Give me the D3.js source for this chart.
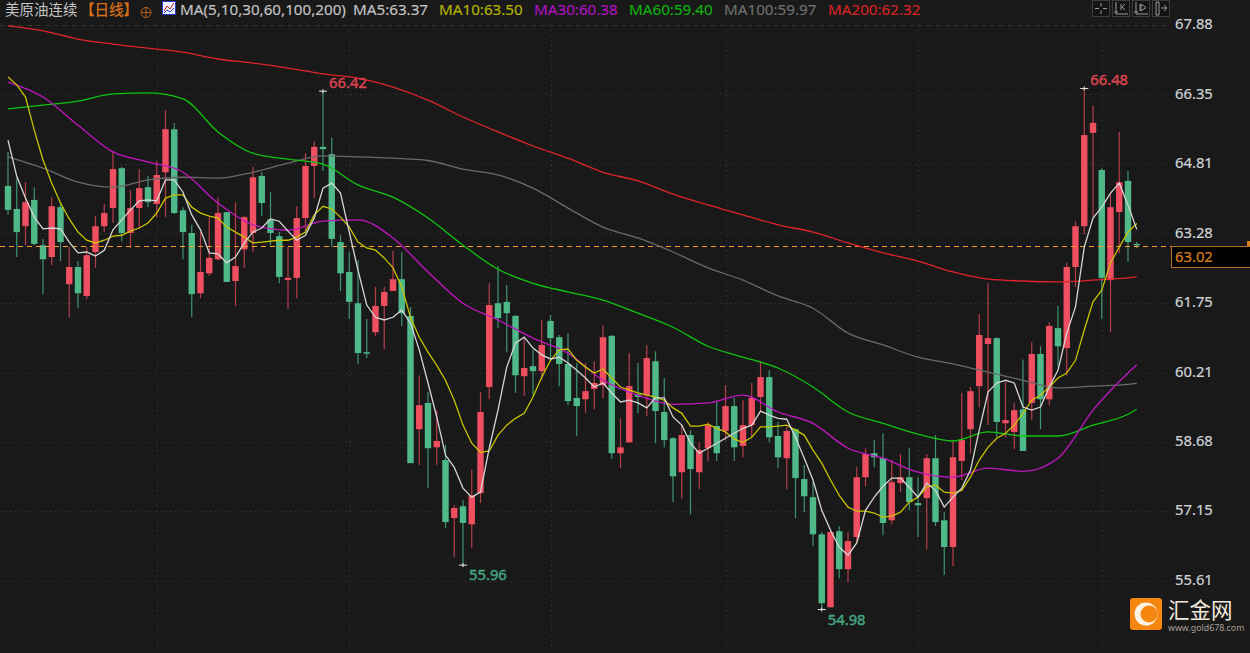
<!DOCTYPE html>
<html>
<head>
<meta charset="utf-8">
<style>
  html, body { margin: 0; padding: 0; background: #191919; overflow: hidden; }
  svg { display: block; }
  text { font-family: "Noto Sans", "Noto Sans CJK SC", sans-serif; }
</style>
<script src="https://d3js.org/d3.v7.min.js"></script>
</head>
<body>
<svg id="chart" width="1250" height="653"></svg>
<script>
const title = "美原油连续";
const period = "【日线】";
const maTitle = "MA(5,10,30,60,100,200)";
const legendLabels = ["MA5:63.37", "MA10:63.50", "MA30:60.38", "MA60:59.40", "MA100:59.97", "MA200:62.32"];
const tickLabels = [67.88, 66.35, 64.81, 63.28, 61.75, 60.21, 58.68, 57.15, 55.61];
const lastPrice = 63.02;
const monthStarts = [17, 39, 62, 82, 104, 125];
const extremeIdx = [36, 123, 52, 93];
const extremeVal = [66.42, 66.48, 55.96, 54.98];

const opens = [64.33,63.82,63.44,64.02,63.02,62.76,63.86,62.16,62.54,61.90,
  62.87,63.44,63.84,64.72,63.29,63.84,64.30,63.93,64.63,65.58,
  63.79,63.29,61.96,62.40,62.71,63.75,62.23,62.93,63.29,64.55,
  63.59,63.22,62.25,62.30,63.62,64.77,65.19,65.03,63.09,62.43,
  61.74,60.66,61.10,61.68,62.01,62.27,61.46,58.96,59.54,58.56,
  58.28,57.00,57.26,56.86,57.55,59.89,61.74,61.77,61.46,60.13,
  60.35,60.24,61.35,60.99,60.40,59.65,59.62,59.85,59.93,61.02,
  58.43,58.67,59.73,59.71,60.46,59.34,58.76,58.01,58.83,58.01,
  58.54,59.03,58.92,59.47,58.59,59.05,59.67,60.11,58.81,58.32,
  58.96,57.86,57.46,56.64,55.03,56.71,55.87,56.58,57.90,58.43,
  58.32,56.95,57.77,57.90,57.33,57.44,58.32,56.95,56.36,58.26,
  58.96,59.91,60.84,60.97,59.09,58.90,59.40,59.54,60.62,59.62,
  61.19,60.75,62.54,63.44,65.50,64.68,62.25,63.75,64.44,63.05];
const closes = [63.80,63.31,63.97,63.05,62.71,63.88,63.09,62.54,61.96,62.80,
  63.44,63.73,64.70,63.29,63.84,64.28,63.97,64.57,65.58,63.73,
  63.31,61.94,62.43,62.74,63.73,62.21,62.56,63.64,64.52,63.95,
  63.29,62.32,62.30,63.62,64.77,65.19,65.14,63.16,62.40,61.77,
  60.64,60.64,61.68,61.99,62.27,61.52,58.21,59.49,58.54,58.70,
  56.91,57.22,56.89,57.50,59.34,61.70,61.41,61.52,60.15,60.31,
  60.24,60.82,60.97,60.40,59.58,59.47,59.80,59.98,60.99,58.43,
  58.56,59.91,59.67,60.53,59.36,58.72,57.92,58.83,58.08,58.50,
  59.05,58.43,59.47,58.56,59.05,59.65,60.11,58.78,58.34,58.92,
  57.88,57.48,56.64,55.12,56.69,55.87,56.49,57.90,58.41,58.34,
  56.89,57.79,57.90,57.35,57.28,58.32,56.91,56.36,58.34,58.72,
  59.80,61.04,60.97,59.12,59.16,59.38,58.48,60.62,59.62,61.24,
  60.79,62.54,63.44,65.45,65.72,62.30,63.86,64.41,63.09,63.02];
const highs = [65.08,64.50,64.41,64.30,63.16,64.08,63.97,62.98,62.67,62.98,
  63.66,63.93,65.10,64.75,64.24,64.70,64.55,64.88,66.00,65.72,
  63.86,63.47,63.31,63.64,64.08,63.75,63.97,63.66,64.75,64.63,
  64.19,63.31,62.98,63.88,65.05,65.32,66.42,65.39,63.24,62.87,
  62.69,61.39,62.10,62.10,62.89,62.87,61.66,60.15,59.78,59.38,
  58.61,57.28,57.39,58.06,59.78,62.18,62.56,62.14,61.48,60.99,
  60.71,61.37,61.48,61.04,61.08,60.42,60.42,60.46,61.26,61.04,
  59.20,60.64,60.42,60.82,60.68,60.09,58.78,59.05,58.94,58.67,
  59.12,59.58,59.93,59.65,59.60,59.98,60.46,60.26,59.12,59.01,
  58.98,58.17,57.79,56.69,56.73,56.82,56.69,58.12,58.54,58.72,
  58.87,58.28,58.41,58.54,57.90,58.41,58.83,57.13,58.72,59.76,
  59.89,61.50,62.18,60.99,60.00,59.54,60.50,60.88,60.79,61.32,
  61.68,62.63,63.55,66.48,66.09,64.72,64.17,65.52,64.66,63.09];
const lows = [63.69,62.76,63.02,63.02,61.94,62.58,62.67,61.43,61.63,61.83,
  62.52,63.31,63.51,63.11,62.96,63.40,63.86,63.64,63.64,63.71,
  62.71,61.43,61.85,62.34,62.69,62.21,61.68,62.52,62.87,63.66,
  63.02,62.18,61.61,61.85,63.29,64.06,64.66,62.98,62.01,61.39,
  60.40,60.53,61.01,60.73,62.01,61.24,58.21,58.17,57.66,58.17,
  56.78,56.14,55.96,56.33,57.33,59.62,61.19,60.66,59.76,59.69,
  59.71,60.04,60.53,59.91,59.49,58.81,59.32,59.40,59.65,58.30,
  58.10,58.67,59.32,59.25,58.65,58.56,57.35,57.42,57.08,57.64,
  58.26,58.26,58.72,58.26,58.34,58.78,59.34,58.67,58.10,57.64,
  57.00,57.13,56.38,54.98,55.03,55.67,55.58,56.47,57.70,58.12,
  56.62,56.86,57.57,57.17,56.58,56.31,56.82,55.74,55.94,57.84,
  58.43,59.45,59.05,58.78,58.78,58.52,58.48,59.16,58.96,59.49,
  60.33,60.15,62.10,63.27,63.64,61.39,61.10,62.85,62.65,62.96];

const ma5 = [65.34,64.54,64.06,63.64,63.38,63.40,63.38,63.09,62.85,62.87,
  62.78,62.91,63.36,63.58,63.80,64.00,64.02,64.00,64.46,64.46,
  64.19,63.69,63.36,62.85,62.83,62.63,62.76,63.07,63.31,63.40,
  63.60,63.55,63.33,63.13,63.24,63.62,64.28,64.39,64.17,63.31,
  62.47,61.70,61.43,61.37,61.43,61.59,61.30,60.71,59.98,59.23,
  58.39,58.12,57.66,57.46,57.57,58.54,59.38,60.33,60.86,60.99,
  60.75,60.60,60.51,60.55,60.42,60.26,60.09,59.89,59.98,59.76,
  59.56,59.60,59.54,59.43,59.65,59.65,59.23,59.05,58.65,58.43,
  58.54,58.65,58.76,58.87,58.98,59.05,59.36,59.27,59.20,59.18,
  58.78,58.32,57.84,57.17,56.73,56.36,56.18,56.45,57.17,57.46,
  57.70,57.88,57.88,57.68,57.46,57.77,57.61,57.24,57.46,57.66,
  58.06,58.94,59.78,59.98,60.04,59.98,59.45,59.38,59.45,59.89,
  60.26,61.08,61.66,62.98,63.62,63.86,64.17,64.39,63.91,63.37];
const ma10 = [66.73,66.56,66.29,65.56,64.90,64.39,63.95,63.60,63.31,63.13,
  63.07,63.13,63.22,63.24,63.33,63.40,63.51,63.73,64.06,64.13,
  64.13,63.86,63.73,63.66,63.62,63.42,63.31,63.20,63.07,63.09,
  63.11,63.13,63.13,63.20,63.31,63.69,63.88,63.82,63.64,63.42,
  63.09,62.96,62.91,62.74,62.52,62.10,61.43,60.99,60.66,60.37,
  60.04,59.60,59.05,58.65,58.45,58.48,58.83,59.05,59.20,59.31,
  59.67,60.11,60.48,60.71,60.73,60.48,60.33,60.20,60.29,60.09,
  59.89,59.82,59.76,59.71,59.67,59.60,59.43,59.31,59.03,59.03,
  59.07,58.98,58.90,58.74,58.67,58.78,59.01,59.01,59.03,59.05,
  58.94,58.83,58.50,58.21,57.84,57.50,57.24,57.15,57.15,57.11,
  57.02,57.04,57.13,57.35,57.46,57.68,57.73,57.57,57.55,57.61,
  57.90,58.28,58.56,58.76,58.87,59.05,59.31,59.60,59.71,59.89,
  60.09,60.20,60.48,61.15,61.77,62.03,62.63,62.98,63.31,63.50];

// the slower averages are read every 4th candle
const slowIdx = [0,4,8,12,16,20,24,28,32,36,40,44,48,52,56,60,64,68,72,76,80,84,88,92,96,100,104,108,112,116,120,124,128,129];
const ma30 = [66.62,66.29,65.67,65.08,64.86,64.63,63.95,63.47,63.35,63.55,63.58,63.18,62.43,61.74,61.37,60.97,60.64,60.04,59.71,59.51,59.54,59.71,59.34,59.09,58.54,58.32,58.01,57.90,58.10,58.03,58.32,59.38,60.20,60.38];
const ma60 = [66.03,66.11,66.20,66.36,66.38,66.25,65.52,65.05,64.92,64.81,64.35,64.08,63.62,63.02,62.49,62.18,61.99,61.81,61.52,61.21,60.79,60.55,60.31,59.89,59.34,59.09,58.85,58.70,58.90,58.81,58.81,59.05,59.29,59.40];
const ma100 = [64.97,64.72,64.41,64.30,64.46,64.52,64.50,64.63,64.83,64.99,64.97,64.94,64.89,64.70,64.57,64.28,63.84,63.42,63.18,62.87,62.52,62.25,61.90,61.63,61.08,60.82,60.55,60.40,60.22,60.04,59.87,59.91,59.95,59.97];
const ma200 = [67.86,67.75,67.57,67.46,67.37,67.28,67.13,67.04,66.93,66.80,66.71,66.51,66.22,65.85,65.52,65.21,64.94,64.63,64.44,64.15,63.91,63.69,63.47,63.31,63.07,62.85,62.67,62.43,62.27,62.23,62.21,62.25,62.30,62.32];

const RED = "#ef4f60", GREEN = "#4fb98a";
const RED_WICK = "#b83d4c", GREEN_WICK = "#3f9472";
const svg = d3.select("#chart");
const width = 1250, height = 653, plotRight = 1170;

const x = d3.scaleLinear().domain([0, opens.length - 1]).range([8, 1136.75]);
const y = d3.scaleLinear().domain([67.88, 55.61]).range([25, 581]);

svg.append("rect").attr("width", width).attr("height", height).attr("fill", "#191919");

// grid
svg.selectAll(".hgrid").data(tickLabels).enter().append("line")
  .attr("class", "hgrid")
  .attr("x1", 0).attr("x2", plotRight)
  .attr("y1", d => Math.round(y(d)) + 0.5).attr("y2", d => Math.round(y(d)) + 0.5)
  .attr("stroke", "#323232").attr("stroke-dasharray", (d, i) => i === 0 ? "5 4" : "1.5 3.5");
svg.selectAll(".vgrid").data(monthStarts).enter().append("line")
  .attr("class", "vgrid")
  .attr("x1", d => Math.round(x(d)) + 0.5).attr("x2", d => Math.round(x(d)) + 0.5)
  .attr("y1", 25).attr("y2", height)
  .attr("stroke", "#323232").attr("stroke-dasharray", "1.5 3.5");

// candles
const idx = d3.range(opens.length);
const up = i => closes[i] >= opens[i];
svg.selectAll(".wick").data(idx).enter().append("line")
  .attr("class", "wick")
  .attr("x1", i => x(i)).attr("x2", i => x(i))
  .attr("y1", i => y(highs[i])).attr("y2", i => y(lows[i]))
  .attr("stroke", i => up(i) ? RED_WICK : GREEN_WICK).attr("stroke-width", 1.2);
svg.selectAll(".body").data(idx).enter().append("rect")
  .attr("class", "body")
  .attr("x", i => x(i) - 3.2).attr("width", 6.4)
  .attr("y", i => y(Math.max(opens[i], closes[i])))
  .attr("height", i => Math.max(1.5, Math.abs(y(opens[i]) - y(closes[i]))))
  .attr("fill", i => up(i) ? RED : GREEN);

// last price line
const lastY = Math.round(y(lastPrice)) + 1;
svg.append("line")
  .attr("x1", 0).attr("x2", width)
  .attr("y1", lastY + 0.5).attr("y2", lastY + 0.5)
  .attr("stroke", "#ff9a22").attr("stroke-width", 1).attr("stroke-dasharray", "5 4");

// moving averages
function drawMa(values, idxs, color, curve) {
  const line = d3.line().x((d, i) => x(idxs[i])).y(d => y(d)).curve(curve);
  svg.append("path").attr("d", line(values))
    .attr("fill", "none").attr("stroke", color).attr("stroke-width", 1.3);
}
drawMa(ma200, slowIdx, "#e0242c", d3.curveMonotoneX);
drawMa(ma100, slowIdx, "#6a6a6a", d3.curveMonotoneX);
drawMa(ma60, slowIdx, "#10c410", d3.curveMonotoneX);
drawMa(ma30, slowIdx, "#c216c2", d3.curveMonotoneX);
drawMa(ma10, idx, "#c8c400", d3.curveLinear);
drawMa(ma5, idx, "#d6d6d6", d3.curveLinear);

// high / low markers
extremeIdx.forEach(function (c, i) {
  const px = x(c), py = y(extremeVal[i]), isHigh = i < 2;
  svg.append("line").attr("x1", px - 4).attr("x2", px + 4).attr("y1", py).attr("y2", py)
    .attr("stroke", "#e8e8e8").attr("stroke-width", 1);
  svg.append("line").attr("x1", px).attr("x2", px).attr("y1", py - 2).attr("y2", py + 2)
    .attr("stroke", "#e8e8e8").attr("stroke-width", 1);
  const col = isHigh ? "#d8434f" : "#44a684";
  svg.append("text").text(extremeVal[i].toFixed(2))
    .attr("x", px + 6).attr("y", isHigh ? py - 3 : py + 15)
    .attr("font-size", 14.8)
    .attr("fill", col).attr("stroke", col).attr("stroke-width", 0.45);
});

// price axis
const axis = d3.axisRight(y).tickValues(tickLabels).tickSize(0).tickPadding(0).tickFormat(d3.format(".2f"));
const axisG = svg.append("g").attr("transform", "translate(1175,-1)").call(axis);
axisG.select(".domain").remove();
axisG.selectAll("text").attr("font-size", 14.8).attr("font-family", "Noto Sans")
  .attr("fill", "#cfd4d8").attr("stroke", "#cfd4d8").attr("stroke-width", 0.2);

// last price box
svg.append("rect").attr("x", 1171.5).attr("y", lastY + 0.5).attr("width", 80).attr("height", 21)
  .attr("fill", "#000").attr("stroke", "#b5701f");
svg.append("text").text(lastPrice.toFixed(2))
  .attr("x", 1175).attr("y", lastY + 16).attr("font-size", 14.8)
  .attr("fill", "#d9811f").attr("stroke", "#d9811f").attr("stroke-width", 0.2);
svg.append("path").attr("d", "M1247,246V241H1250V246Z").attr("fill", "#d9811f");

// header
svg.append("text").text(title).attr("x", 5).attr("y", 15).attr("font-size", 14.5)
  .attr("font-family", "Noto Sans CJK SC").attr("fill", "#c4c4c4");
svg.append("text").text(period).attr("x", 80).attr("y", 15).attr("font-size", 14.5)
  .attr("font-family", "Noto Sans CJK SC").attr("fill", "#d9701a").attr("stroke", "#d9701a").attr("stroke-width", 0.25);
svg.append("circle").attr("cx", 146).attr("cy", 12.5).attr("r", 5).attr("fill", "none").attr("stroke", "#b8601a");
svg.append("path").attr("d", "M141,12.5H151M146,7.5V17.5").attr("stroke", "#b8601a");
const icon = svg.append("g").attr("transform", "translate(162,1)");
icon.append("rect").attr("x", 0.5).attr("y", 0.5).attr("width", 13).attr("height", 13).attr("fill", "#eef2ff").attr("stroke", "#2838c8");
icon.append("path").attr("d", "M2,10L5,5L8,8L12,2").attr("fill", "none").attr("stroke", "#d02020");
icon.append("path").attr("d", "M2,12L5,9L8,11L12,7").attr("fill", "none").attr("stroke", "#2838c8");
svg.append("text").text(maTitle).attr("x", 180).attr("y", 15).attr("font-size", 15.2)
  .attr("fill", "#c4c4c4").attr("stroke", "#c4c4c4").attr("stroke-width", 0.15);
const legendX = [353, 439, 534, 629, 724, 828];
const legendColors = ["#c4c4c4", "#b4b400", "#b010c0", "#10b010", "#707070", "#d42424"];
svg.selectAll(".legend").data(legendLabels).enter().append("text")
  .attr("class", "legend").text(d => d)
  .attr("x", (d, i) => legendX[i]).attr("y", 15).attr("font-size", 15.2)
  .attr("fill", (d, i) => legendColors[i]).attr("stroke", (d, i) => legendColors[i]).attr("stroke-width", 0.15);

// toolbar buttons
const toolX = [1092, 1112, 1132, 1152];
const toolGlyph = ["M3,8.5H7M11,8.5H15M9,3V6.5M9,10.5V14", "M4,2V14H16M2,12H6M9,4V10M13,4L10,7L13,10", "M4,2V14H16M2,12H6M8,4V11M9,4L14,7.5L9,11Z", "M4,2V15H7V2ZM9,8H14M12,5L15,8L12,11"];
toolX.forEach(function (tx, i) {
  const g = svg.append("g").attr("transform", "translate(" + tx + ",0)");
  g.append("rect").attr("x", 0.5).attr("y", 0.5).attr("width", 17).attr("height", 16)
    .attr("fill", "#141414").attr("stroke", "#3c3c3c");
  g.append("path").attr("d", toolGlyph[i]).attr("fill", "none").attr("stroke", "#9a9a9a");
});

// watermark
svg.append("rect").attr("x", 1130).attr("y", 598).attr("width", 32).attr("height", 32).attr("rx", 3).attr("fill", "#f5860f");
svg.append("circle").attr("cx", 1146).attr("cy", 614).attr("r", 11.5).attr("fill", "#fdf2e4");
svg.append("circle").attr("cx", 1149).attr("cy", 614).attr("r", 8.5).attr("fill", "#f5860f");
svg.append("text").text("汇金网").attr("x", 1168).attr("y", 618).attr("font-size", 21.5)
  .attr("font-family", "Noto Sans CJK SC").attr("fill", "#f2eade");
svg.append("text").text("www.gold678.com").attr("x", 1168).attr("y", 631).attr("font-size", 8.8)
  .attr("font-family", "Liberation Sans").attr("fill", "#a89f94");
</script>
</body>
</html>
